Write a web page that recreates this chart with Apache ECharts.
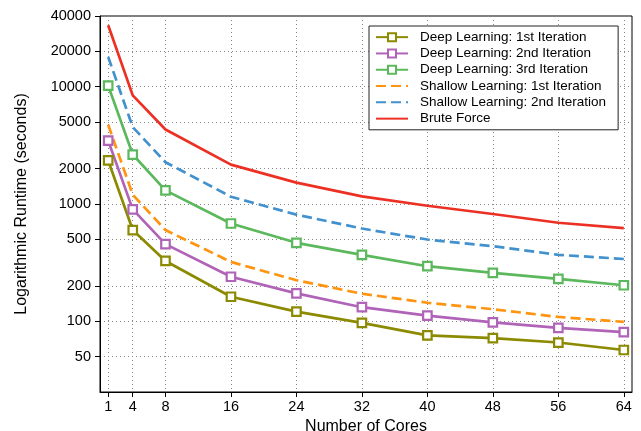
<!DOCTYPE html>
<html>
<head>
<meta charset="utf-8">
<script src="https://cdn.jsdelivr.net/npm/echarts@6/dist/echarts.min.js"></script>
<style>html,body{margin:0;padding:0;background:#fff}#c{width:641px;height:431px}</style>
</head>
<body>
<div id="c"></div>
<script>
const cores = [1, 4, 8, 16, 24, 32, 40, 48, 56, 64];
const yTicks = [50, 100, 200, 500, 1000, 2000, 5000, 10000, 20000, 40000];
const seriesNames = ['Deep Learning: 1st Iteration', 'Deep Learning: 2nd Iteration', 'Deep Learning: 3rd Iteration', 'Shallow Learning: 1st Iteration', 'Shallow Learning: 2nd Iteration', 'Brute Force'];
const deep1 = [2350, 600, 327, 162, 121, 97, 76, 72, 66, 57];
const deep2 = [3470, 900, 455, 240, 173, 132, 112, 98, 88, 81];
const deep3 = [10200, 2640, 1306, 682, 467, 369, 295, 259, 230, 203];
const shallow1 = [4730, 1200, 600, 321, 224, 172, 144, 127, 109, 99];
const shallow2 = [17900, 4520, 2270, 1154, 811, 618, 498, 437, 369, 340];
const brute = [33400, 8430, 4315, 2167, 1520, 1161, 966, 822, 692, 624];

const colors = ['#8c8a00', '#b064b8', '#5cb85c', '#ff9410', '#4291cf', '#ec3124'];
const FONT = 'Liberation Sans, Arial, Helvetica, sans-serif';

function pts(vals) { return cores.map((c, i) => [c, vals[i]]); }

function markerSeries(name, vals, color) {
  return {
    name, type: 'line', data: pts(vals),
    symbol: 'rect', symbolSize: 8.5, showSymbol: true,
    lineStyle: { color, width: 2.7 },
    itemStyle: { color: '#fff', borderColor: color, borderWidth: 2.2 },
    emphasis: { disabled: true }, animation: false
  };
}
function plainSeries(name, vals, color, dashed) {
  return {
    name, type: 'line', data: pts(vals),
    symbol: 'none', showSymbol: false,
    lineStyle: { color, width: 2.7, type: dashed ? [10, 5] : 'solid' },
    itemStyle: { color },
    emphasis: { disabled: true }, animation: false
  };
}

const chart = echarts.init(document.getElementById('c'), null, { renderer: 'canvas' });
chart.setOption({
  animation: false,
  backgroundColor: '#fff',
  grid: { left: 100, right: 9, top: 16, bottom: 39, containLabel: false, outerBoundsMode: 'none', show: true, borderColor: '#000', borderWidth: 1, backgroundColor: 'transparent' },
  legend: {
    orient: 'vertical', left: 369, top: 26,
    backgroundColor: '#fff', borderColor: '#222', borderWidth: 1,
    padding: [4, 12, 4, 6], itemGap: 2, itemWidth: 32, itemHeight: 10,
    textStyle: { fontFamily: FONT, fontSize: 13.5, color: '#000', lineHeight: 14.3, padding: [0, 0, 0, 7] },
    data: seriesNames.map((n, i) => i < 3 ? { name: n } : { name: n, itemStyle: { opacity: 0 } })
  },
  xAxis: {
    type: 'value', min: 0, max: 65,
    name: 'Number of Cores', nameLocation: 'middle', nameGap: 18,
    nameTextStyle: { fontFamily: FONT, fontSize: 16, color: '#000' },
    axisLine: { show: true, lineStyle: { color: '#000', width: 1 } },
    axisTick: { show: true, length: 5, lineStyle: { color: '#000' }, customValues: cores },
    axisLabel: { fontFamily: FONT, fontSize: 14.5, color: '#000', margin: 7, customValues: cores },
    splitLine: { show: true, lineStyle: { color: '#888', type: [1, 3], width: 1 } }
  },
  yAxis: {
    type: 'log', logBase: 10, min: 25, max: 40000,
    name: 'Logarithmic Runtime (seconds)', nameLocation: 'middle', nameGap: 70,
    nameTextStyle: { fontFamily: FONT, fontSize: 16, color: '#000' },
    axisLine: { show: true, lineStyle: { color: '#000', width: 1 } },
    axisTick: { show: true, length: 5, lineStyle: { color: '#000' }, customValues: yTicks },
    axisLabel: { fontFamily: FONT, fontSize: 14.5, color: '#000', margin: 9, customValues: yTicks, formatter: v => String(Math.round(v)) },
    splitLine: { show: true, lineStyle: { color: '#888', type: [1, 3], width: 1 } },
    minorTick: { show: false }
  },
  series: [
    markerSeries(seriesNames[0], deep1, colors[0]),
    markerSeries(seriesNames[1], deep2, colors[1]),
    markerSeries(seriesNames[2], deep3, colors[2]),
    plainSeries(seriesNames[3], shallow1, colors[3], true),
    plainSeries(seriesNames[4], shallow2, colors[4], true),
    plainSeries(seriesNames[5], brute, colors[5], false)
  ]
});
</script>
</body>
</html>
